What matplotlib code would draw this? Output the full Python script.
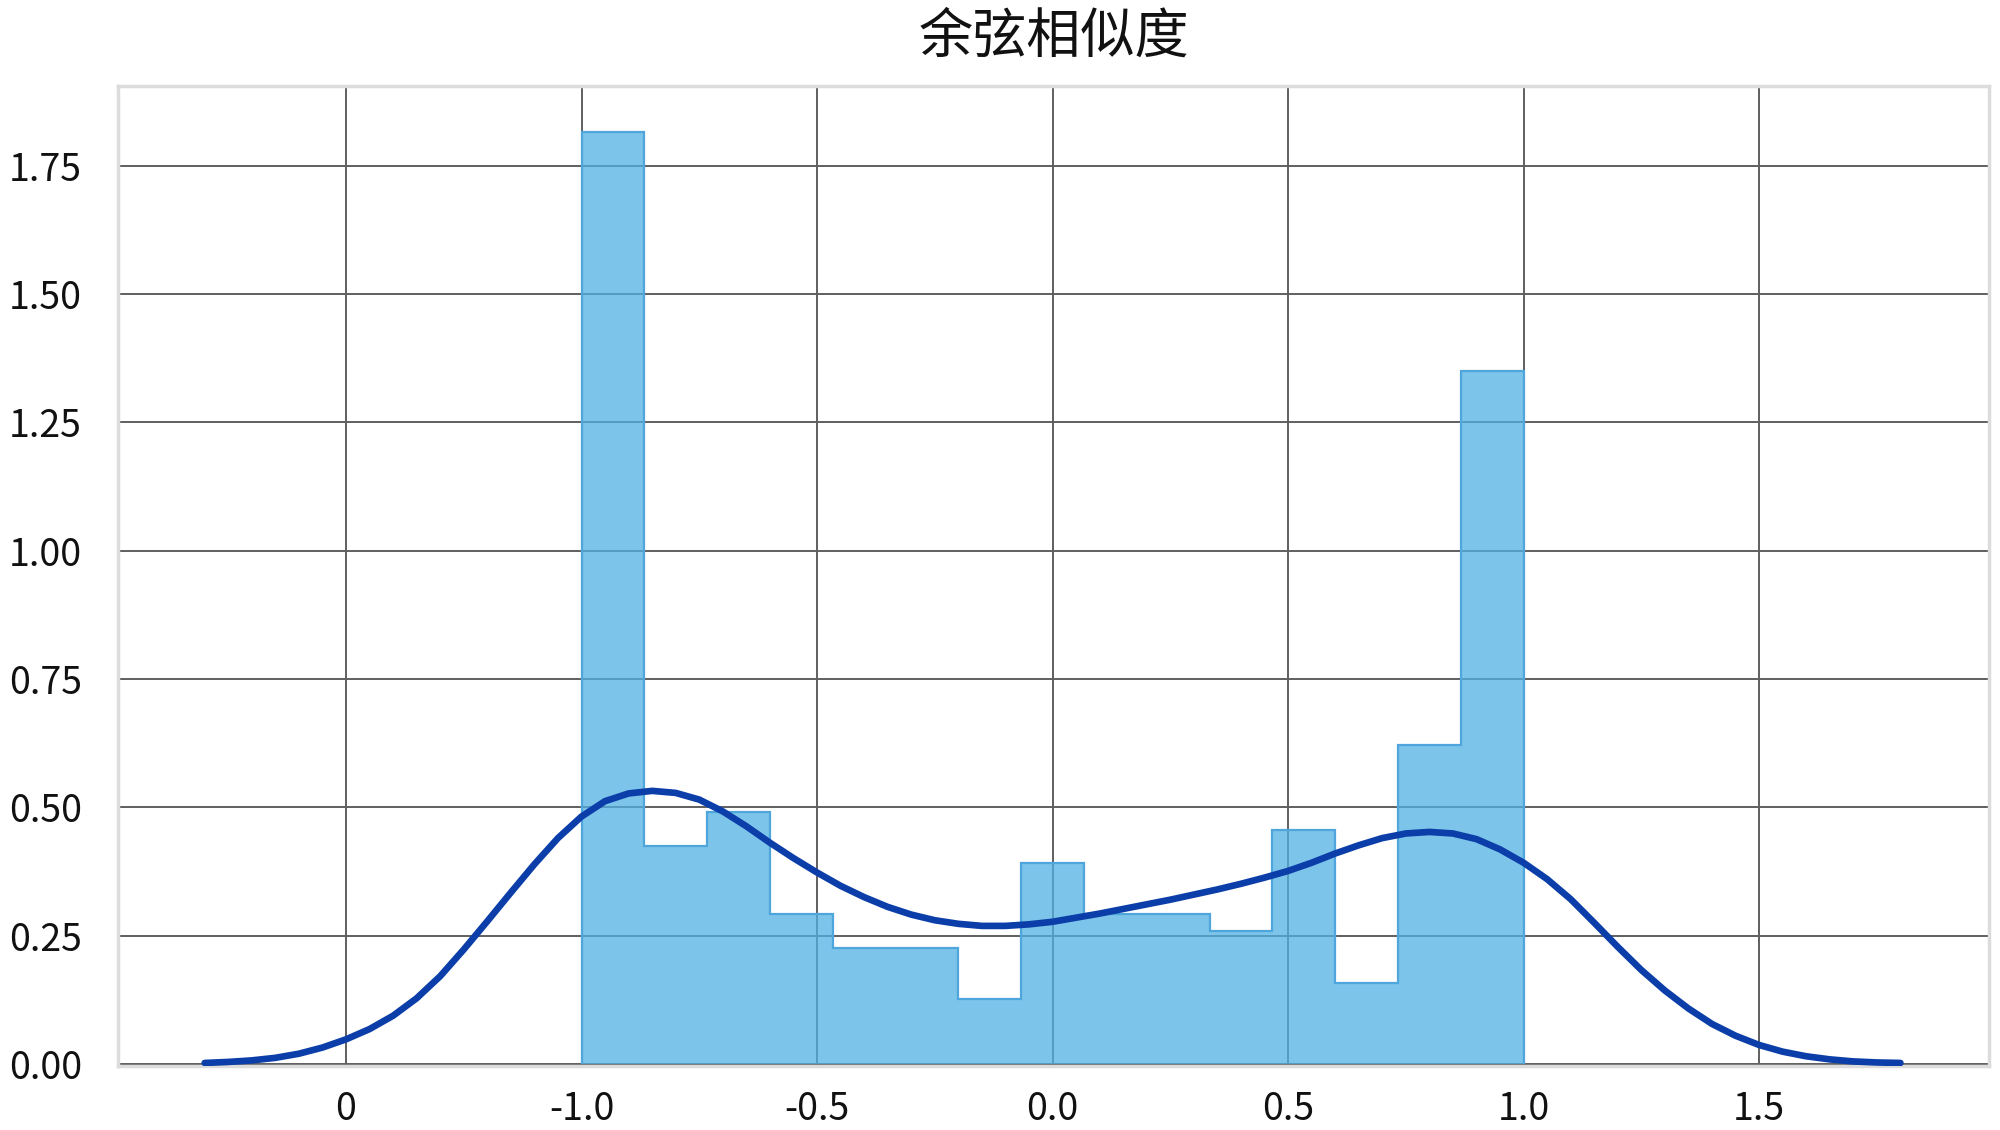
import numpy as np
import matplotlib
matplotlib.use("Agg")
import matplotlib.pyplot as plt

plt.rcParams['font.family'] = ['Noto Sans CJK SC', 'DejaVu Sans']

# histogram (density) over 15 bins between -1 and 1
bin_lo, bin_hi, n_bins = -1.0, 1.0, 15
bar_heights = [1.815, 0.424, 0.491, 0.292, 0.226, 0.226, 0.127, 0.392,
               0.292, 0.292, 0.260, 0.456, 0.158, 0.621, 1.350]

# KDE curve
kde_x = [-1.80, -1.75, -1.70, -1.65, -1.60, -1.55, -1.50, -1.45, -1.40, -1.35,
         -1.30, -1.25, -1.20, -1.15, -1.10, -1.05, -1.00, -0.95, -0.90, -0.85,
         -0.80, -0.75, -0.70, -0.65, -0.60, -0.55, -0.50, -0.45, -0.40, -0.35,
         -0.30, -0.25, -0.20, -0.15, -0.10, -0.05, 0.00, 0.05, 0.10, 0.15,
         0.20, 0.25, 0.30, 0.35, 0.40, 0.45, 0.50, 0.55, 0.60, 0.65,
         0.70, 0.75, 0.80, 0.85, 0.90, 0.95, 1.00, 1.05, 1.10, 1.15,
         1.20, 1.25, 1.30, 1.35, 1.40, 1.45, 1.50, 1.55, 1.60, 1.65,
         1.70, 1.75, 1.80]
kde_y = [0.002, 0.004, 0.007, 0.012, 0.020, 0.032, 0.048, 0.068, 0.094, 0.128,
         0.171, 0.223, 0.278, 0.334, 0.389, 0.440, 0.482, 0.512, 0.527, 0.532,
         0.528, 0.515, 0.492, 0.463, 0.431, 0.401, 0.373, 0.347, 0.325, 0.306,
         0.291, 0.280, 0.273, 0.269, 0.269, 0.272, 0.277, 0.285, 0.293, 0.302,
         0.311, 0.320, 0.330, 0.340, 0.351, 0.363, 0.376, 0.392, 0.410, 0.426,
         0.440, 0.449, 0.452, 0.449, 0.438, 0.418, 0.392, 0.360, 0.321, 0.275,
         0.228, 0.183, 0.143, 0.108, 0.078, 0.055, 0.037, 0.024, 0.015, 0.009,
         0.005, 0.003, 0.002]

xtick_pos = [-1.5, -1.0, -0.5, 0.0, 0.5, 1.0, 1.5]
xtick_labels = ['0', '-1.0', '-0.5', '0.0', '0.5', '1.0', '1.5']
ytick_pos = [0.0, 0.25, 0.5, 0.75, 1.0, 1.25, 1.5, 1.75]
ytick_labels = ['0.00', '0.25', '0.50', '0.75', '1.00', '1.25', '1.50', '1.75']

fig = plt.figure(figsize=(20, 11.3), dpi=100)
ax = fig.add_axes([0.059, 0.0566, 0.9355, 0.8673])

edges = np.linspace(bin_lo, bin_hi, n_bins + 1)
ax.bar(edges[:-1], bar_heights, width=np.diff(edges), align='edge',
       color='#50b0e3', alpha=0.75, linewidth=0, zorder=3)
ax.stairs(bar_heights, edges, color='#4ea6dc', linewidth=1.6, zorder=3)
ax.plot(kde_x, kde_y, color='#0b3ea8', linewidth=4.8, zorder=4,
        solid_capstyle='round', solid_joinstyle='round')

ax.set_xlim(-1.984, 1.988)
ax.set_ylim(-0.004, 1.905)
ax.set_xticks(xtick_pos)
ax.set_xticklabels(xtick_labels)
ax.set_yticks(ytick_pos)
ax.set_yticklabels(ytick_labels)
ax.tick_params(axis='both', length=0, labelsize=27, colors='#111111')
ax.tick_params(axis='x', pad=17)
ax.tick_params(axis='y', pad=26)

ax.grid(True, color='#5f5f5f', linewidth=1.4, zorder=1)
ax.set_axisbelow(True)
for s in ax.spines.values():
    s.set_color('#dcdcdc')
    s.set_linewidth(2.5)

ax.set_title('余弦相似度', fontsize=39, pad=24, color='#111111')

fig.savefig('out.png', dpi=100, facecolor='white')
